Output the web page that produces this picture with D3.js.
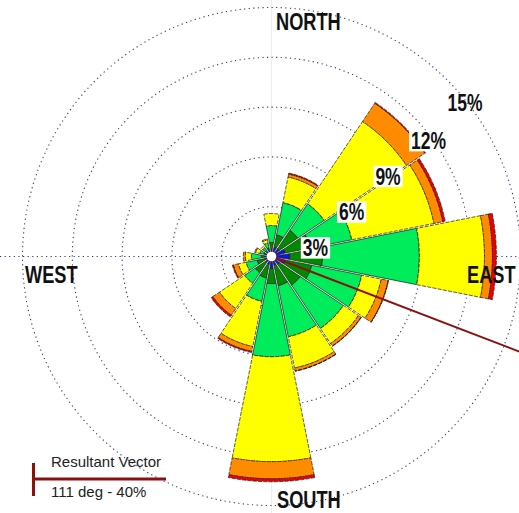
<!DOCTYPE html>
<html><head><meta charset="utf-8">
<script src="https://cdn.jsdelivr.net/npm/d3@7"></script>
<style>html,body{margin:0;padding:0;background:#fff;} svg{display:block;}</style>
</head><body>
<svg id="chart" width="519" height="513"></svg>
<script>
// ---------- data ----------
const directions = ["N","NNE","NE","ENE","E","ESE","SE","SSE","S","SSW","SW","WSW","W","WNW","NW","NNW"];
const speedClasses = ["c1","c2","c3","c4","c5","c6"];
// frequency (%) of each speed class per direction
const class1 = [0.43,0.60,0.60,0.85,1.10,0.85,0.60,0.55,0.73,0.49,0.43,0.43,0.43,0.40,0.40,0.40];
const class2 = [0.42,0.74,1.33,1.57,1.98,1.63,1.51,1.26,0.91,0.84,0.78,0.47,0.18,0.09,0.09,0.15];
const class3 = [1.02,1.98,1.92,2.52,5.83,3.07,3.13,3.13,4.40,1.44,0.77,0.67,0.60,0.24,0.18,0.30];
const class4 = [0.72,1.57,5.96,5.05,3.92,1.20,1.09,1.92,6.32,2.77,1.82,0.47,0.37,0.25,0.12,0.19];
const class5 = [0.00,0.18,1.32,0.54,0.48,0.42,0.19,0.18,1.03,0.30,0.48,0.31,0.12,0.06,0.00,0.06];
const class6 = [0.00,0.06,0.06,0.15,0.24,0.03,0.02,0.02,0.18,0.07,0.12,0.06,0.00,0.00,0.00,0.00];
const ringValues = [3,6,9,12,15];
const ringLabels = ["3%","6%","9%","12%","15%"];
const compassLabels = ["NORTH","EAST","SOUTH","WEST"];
const resultantDeg = 111;
const resultantPct = 40;
const legendTitle = "Resultant Vector";
const legendValue = "111 deg - 40%";

// ---------- layout / style ----------
const W = 519, H = 513, cx = 271.5, cy = 256.5;
const classColors = ["#1010f0","#008a00","#00ec5a","#ffff00","#ff8c00","#ee0000"];
const ringLabelAngles = [79, 61, 55.5, 53.6, 51.6];
const ringLabelInset = [5, 8, 8, 4, 2];
const compassPos = [[276, 30, "start"],[467, 283, "start"],[277, 507.5, "start"],[25, 283, "start"]];

const svg = d3.select("#chart");
const r = d3.scaleLinear().domain([0, 15]).range([0, 249]);
const angle = d3.scaleBand().domain(directions).range([-Math.PI/16, 2*Math.PI - Math.PI/16]);
const rad = d => d * Math.PI / 180;

// axes lines
svg.append("line").attr("x1", cx).attr("x2", cx).attr("y1", 0).attr("y2", H)
  .attr("stroke", "#ececf2").attr("stroke-width", 1);
svg.append("line").attr("x1", 0).attr("x2", W).attr("y1", cy).attr("y2", cy)
  .attr("stroke", "#34348c").attr("stroke-width", 1.1).attr("stroke-dasharray", "1.2,3.4");

// rings
svg.append("g").selectAll("circle").data(ringValues).join("circle")
  .attr("cx", cx).attr("cy", cy).attr("r", d => r(d))
  .attr("fill", "none").attr("stroke", "#34348c").attr("stroke-width", 1.1)
  .attr("stroke-dasharray", "1.2,3.4");

// stacked petals
const table = directions.map((d, i) => ({dir: d, c1: class1[i], c2: class2[i], c3: class3[i], c4: class4[i], c5: class5[i], c6: class6[i]}));
const series = d3.stack().keys(speedClasses)(table);
const arc = d3.arc()
  .innerRadius(d => r(d[0]))
  .outerRadius(d => r(d[1]))
  .startAngle(d => angle(d.data.dir))
  .endAngle(d => angle(d.data.dir) + angle.bandwidth())
  .padAngle(0.012).padRadius(120);

const petals = svg.append("g").attr("transform", `translate(${cx},${cy})`);
series.forEach((s, k) => {
  petals.append("g").selectAll("path")
    .data(s.filter(d => d[1] - d[0] > 0.001))
    .join("path")
    .attr("d", arc)
    .attr("fill", classColors[k])
    .attr("stroke", "#1a1a1a").attr("stroke-width", 0.7)
    .attr("stroke-dasharray", k >= 3 ? "4,1.3" : null);
});

// calm circle
svg.append("circle").attr("cx", cx).attr("cy", cy).attr("r", 4.8).attr("fill", "#fff");

// resultant vector
const a = rad(resultantDeg);
svg.append("line")
  .attr("x1", cx + 5 * Math.sin(a)).attr("y1", cy - 5 * Math.cos(a))
  .attr("x2", cx + r(resultantPct) * Math.sin(a)).attr("y2", cy - r(resultantPct) * Math.cos(a))
  .attr("stroke", "#8b1010").attr("stroke-width", 2);

// ring labels
ringValues.forEach((v, i) => {
  const ang = rad(ringLabelAngles[i]);
  const d = r(v) - ringLabelInset[i];
  const x = cx + d * Math.sin(ang), y = cy - d * Math.cos(ang);
  const g = svg.append("g").attr("transform", `translate(${x},${y}) scale(1,1.32)`);
  const rect = g.append("rect").attr("fill", "#fff");
  const t = g.append("text").attr("text-anchor", "middle").attr("y", 6.3)
    .attr("font-family", "Liberation Sans, Arial, sans-serif").attr("font-weight", "bold")
    .attr("font-size", 17.5).attr("fill", "#111").text(ringLabels[i]);
  if (i < 4) {
    const bb = t.node().getBBox();
    rect.attr("x", -bb.width/2 - 2).attr("y", -8.1).attr("width", bb.width + 4).attr("height", 16.2);
  }
});

// compass labels
compassLabels.forEach((lab, i) => {
  const [x, y, anchor] = compassPos[i];
  svg.append("g").attr("transform", `translate(${x},${y}) scale(1,1.33)`)
    .append("text").attr("text-anchor", anchor)
    .attr("font-family", "Liberation Sans, Arial, sans-serif").attr("font-weight", "bold")
    .attr("font-size", 18.2).attr("fill", "#111").text(lab);
});

// legend
const lg = svg.append("g");
lg.append("line").attr("x1", 33.5).attr("x2", 33.5).attr("y1", 463).attr("y2", 496)
  .attr("stroke", "#8b1010").attr("stroke-width", 3);
lg.append("line").attr("x1", 33).attr("x2", 166).attr("y1", 479).attr("y2", 479)
  .attr("stroke", "#8b1010").attr("stroke-width", 3);
lg.append("text").attr("x", 51).attr("y", 467).attr("font-family", "Liberation Sans, Arial, sans-serif")
  .attr("font-size", 15).attr("fill", "#222").text(legendTitle);
lg.append("text").attr("x", 51).attr("y", 497).attr("font-family", "Liberation Sans, Arial, sans-serif")
  .attr("font-size", 15).attr("fill", "#222").text(legendValue);
</script>
</body></html>
